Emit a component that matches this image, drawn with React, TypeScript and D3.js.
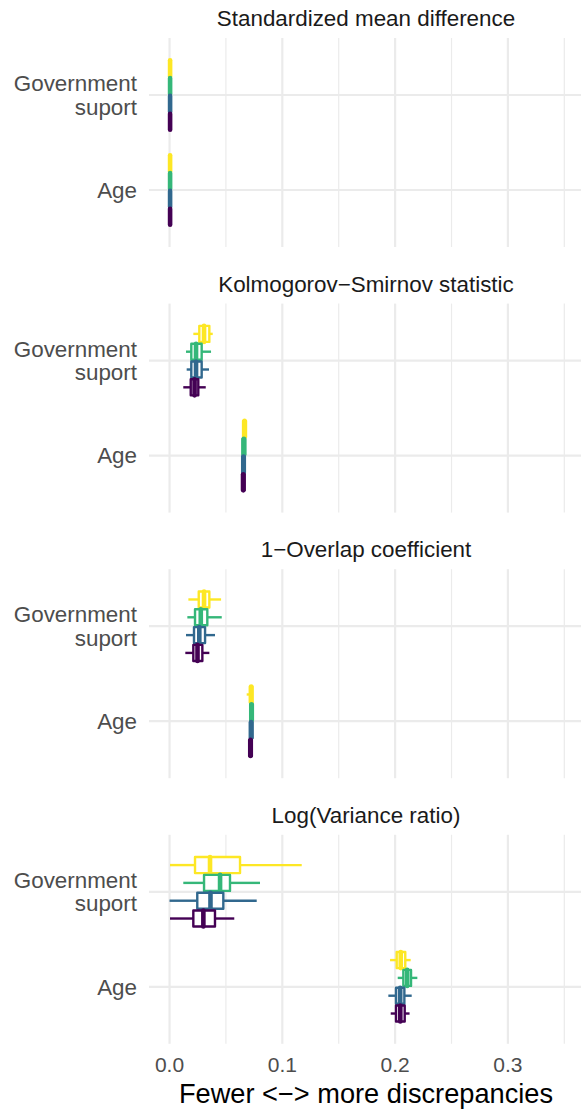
import React from "react";
import * as d3 from "d3";

const metrics = [
  "Standardized mean difference",
  "Kolmogorov\u2212Smirnov statistic",
  "1\u2212Overlap coefficient",
  "Log(Variance ratio)",
];
const covariates = ["Government suport", "Age"];
const groupColors = ["#FDE725", "#35B779", "#31688E", "#440154"];
const xTicks = [0, 0.1, 0.2, 0.3];
const xMinor = [0.05, 0.15, 0.25, 0.35];

// [lowerWhisker, q1, median, q3, upperWhisker], groups top to bottom
const smdGov = [
  [0, 0, 0.0005, 0.001, 0.001],
  [0, 0, 0.0005, 0.001, 0.001],
  [0, 0, 0.0005, 0.001, 0.001],
  [0, 0, 0.0005, 0.001, 0.001],
];
const smdAge = [
  [0, 0, 0.0005, 0.001, 0.001],
  [0, 0, 0.0005, 0.001, 0.001],
  [0, 0, 0.0005, 0.001, 0.001],
  [0, 0, 0.0005, 0.001, 0.001],
];
const ksGov = [
  [0.0211, 0.0264, 0.0306, 0.0353, 0.0383],
  [0.0146, 0.0193, 0.0235, 0.0285, 0.0368],
  [0.0152, 0.0193, 0.0235, 0.0285, 0.035],
  [0.0122, 0.0188, 0.0222, 0.0255, 0.0321],
];
const ksAge = [
  [0.0652, 0.0652, 0.0665, 0.0678, 0.0678],
  [0.0646, 0.0646, 0.0659, 0.0672, 0.0672],
  [0.0644, 0.0644, 0.0656, 0.0668, 0.0668],
  [0.0642, 0.0642, 0.0654, 0.0666, 0.0666],
];
const ovlGov = [
  [0.0167, 0.0259, 0.0306, 0.0353, 0.0457],
  [0.0158, 0.0226, 0.0277, 0.0335, 0.0463],
  [0.0146, 0.0217, 0.0264, 0.0315, 0.0403],
  [0.014, 0.0211, 0.0248, 0.0291, 0.0353],
];
const ovlAge = [
  [0.0684, 0.0712, 0.0724, 0.0736, 0.0736],
  [0.0715, 0.0715, 0.0727, 0.0739, 0.0739],
  [0.0712, 0.0712, 0.0724, 0.0736, 0.0736],
  [0.0706, 0.0706, 0.0718, 0.073, 0.073],
];
const lvrGov = [
  [0.0004, 0.0226, 0.0359, 0.0625, 0.1172],
  [0.0122, 0.0306, 0.0448, 0.0536, 0.0802],
  [0.0, 0.0246, 0.0363, 0.0477, 0.0773],
  [0.0004, 0.0211, 0.03, 0.0403, 0.0574],
];
const lvrAge = [
  [0.1955, 0.2014, 0.205, 0.209, 0.2138],
  [0.2023, 0.2073, 0.2107, 0.2141, 0.2197],
  [0.194, 0.2008, 0.2045, 0.2082, 0.2147],
  [0.1961, 0.2008, 0.2046, 0.2085, 0.2128],
];

const panelData = [
  [smdGov, smdAge],
  [ksGov, ksAge],
  [ovlGov, ovlAge],
  [lvrGov, lvrAge],
];

const W = 581;
const H = 1112;
const FONT = "'Liberation Sans', Arial, Helvetica, sans-serif";

export default function App() {
  const left = 149;
  const right = 581;
  const x = d3.scaleLinear().domain([-0.0182, 0.3648]).range([left, right]);
  const panelH = 209;
  const panelStep = 265.6;
  const firstTop = 38;

  return (
    <svg
      width={W}
      height={H}
      style={{ position: "absolute", left: 0, top: 0, display: "block", background: "#fff" }}
      fontFamily={FONT}
    >
      {metrics.map((m, pi) => {
        const top = firstTop + pi * panelStep;
        const y = d3.scalePoint<string>().domain(covariates).range([top, top + panelH]).padding(0.6);
        const step = y.step();
        const dodge = (step * 0.75) / groupColors.length;
        const boxH = dodge * 0.9;
        const cx = (left + right) / 2;
        return (
          <g key={m}>
            <text x={cx + 1} y={top - 12} textAnchor="middle" fontSize={22.4} fill="#1A1A1A">
              {m}
            </text>
            {xMinor.map((t) => (
              <line key={"mi" + t} x1={x(t)} x2={x(t)} y1={top} y2={top + panelH} stroke="#EBEBEB" strokeWidth={1.2} />
            ))}
            {xTicks.map((t) => (
              <line key={"ma" + t} x1={x(t)} x2={x(t)} y1={top} y2={top + panelH} stroke="#EBEBEB" strokeWidth={2.2} />
            ))}
            {covariates.map((c) => (
              <line key={"h" + c} x1={left} x2={right} y1={y(c)} y2={y(c)} stroke="#EBEBEB" strokeWidth={2.2} />
            ))}
            {covariates.map((c) => {
              const yc = y(c) as number;
              const lines = c === "Government suport" ? ["Government", "suport"] : [c];
              const lh = 23.5;
              const baseY = yc + 7.8 - ((lines.length - 1) * lh) / 2;
              return (
                <text key={"l" + c} textAnchor="end" fontSize={22.4} fill="#4D4D4D">
                  {lines.map((ln, li) => (
                    <tspan key={li} x={137} y={baseY + li * lh}>
                      {ln}
                    </tspan>
                  ))}
                </text>
              );
            })}
            {covariates.map((c, ci) =>
              panelData[pi][ci].map((s, gi) => {
                const yc = (y(c) as number) + (gi - (groupColors.length - 1) / 2) * dodge;
                const col = groupColors[gi];
                const [wl, q1, med, q3, wh] = s;
                return (
                  <g key={c + gi}>
                    <line x1={x(wl)} x2={x(q1)} y1={yc} y2={yc} stroke={col} strokeWidth={2.4} />
                    <line x1={x(q3)} x2={x(wh)} y1={yc} y2={yc} stroke={col} strokeWidth={2.4} />
                    <rect
                      x={x(q1)}
                      y={yc - boxH / 2}
                      width={Math.max(0, x(q3) - x(q1))}
                      height={boxH}
                      fill="#fff"
                      stroke={col}
                      strokeWidth={2.4}
                      strokeLinejoin="round"
                    />
                    <line
                      x1={x(med)}
                      x2={x(med)}
                      y1={yc - boxH / 2}
                      y2={yc + boxH / 2}
                      stroke={col}
                      strokeWidth={4.6}
                      strokeLinecap="round"
                    />
                  </g>
                );
              })
            )}
          </g>
        );
      })}
      {xTicks.map((t) => (
        <text key={"t" + t} x={x(t)} y={1072} textAnchor="middle" fontSize={21} fill="#4D4D4D">
          {d3.format(".1f")(t)}
        </text>
      ))}
      <text x={(left + right) / 2 + 1} y={1103} textAnchor="middle" fontSize={27.2} fill="#000">
        Fewer &lt;{"\u2212"}&gt; more discrepancies
      </text>
    </svg>
  );
}
